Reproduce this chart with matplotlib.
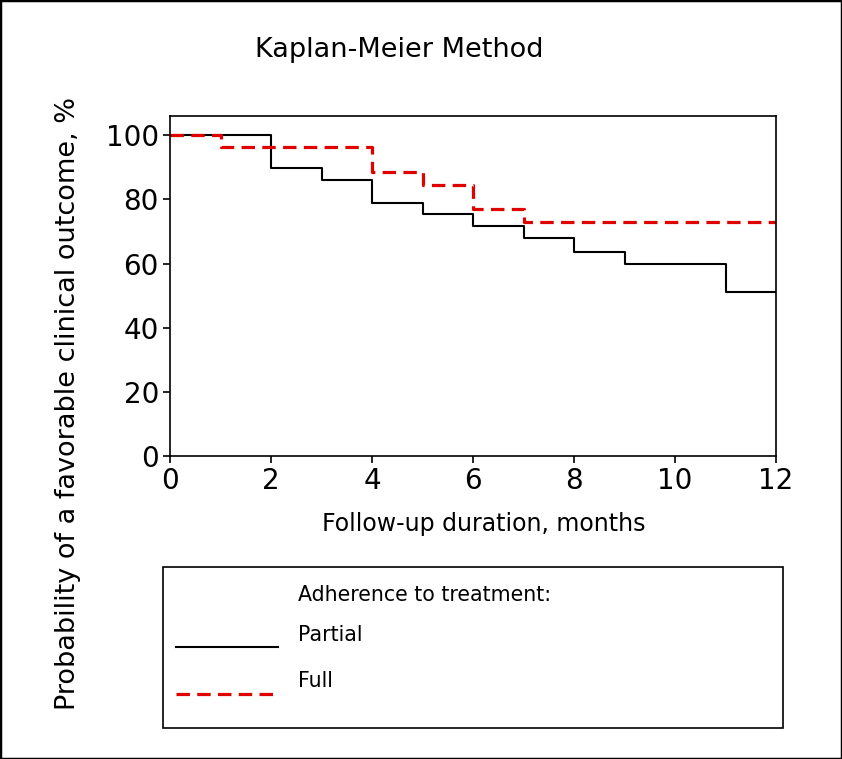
import numpy as np
import matplotlib
matplotlib.use("Agg")
import matplotlib.pyplot as plt
from matplotlib.lines import Line2D
from matplotlib.patches import Rectangle

plt.rcParams['font.family'] = ['DejaVu Sans']

# Kaplan-Meier step data (months, % with favorable outcome)
partial_t = [0, 2, 3, 4, 5, 6, 7, 8, 9, 11, 12]
partial_s = [100, 89.7, 86.0, 79.0, 75.5, 71.7, 67.9, 63.7, 60.0, 51.2, 51.2]

full_t = [0, 1, 4, 5, 6, 7, 12]
full_s = [100, 96.2, 88.5, 84.6, 76.9, 73.1, 73.1]

x_ticks = [0, 2, 4, 6, 8, 10, 12]
y_ticks = [0, 20, 40, 60, 80, 100]

red = '#e00000'

W, H = 842, 759
fig = plt.figure(figsize=(W / 100, H / 100), dpi=100)

# main axes, placed by pixel box
l, r, t, b = 170, 776, 116, 456
ax = fig.add_axes([l / W, 1 - b / H, (r - l) / W, (b - t) / H])
ax.step(partial_t, partial_s, where='post', color='black', lw=1.5)
ax.step(full_t, full_s, where='post', color=red, lw=2.3, dashes=(4.2, 2.3))
ax.set_xlim(0, 12)
ax.set_ylim(0, 106)
ax.set_xticks(x_ticks)
ax.set_yticks(y_ticks)
ax.tick_params(labelsize=20, length=5, width=1.2, pad=3)
for s in ax.spines.values():
    s.set_linewidth(1.2)

# axis titles placed as in the source (y title sits lower than the axes centre)
fig.text(484 / W, 1 - 524 / H, "Follow-up duration, months", fontsize=17,
         ha='center', va='center')
fig.text(68 / W, 1 - 403 / H, "Probability of a favorable clinical outcome, %",
         fontsize=19.5, rotation=90, ha='center', va='center')
fig.text(399 / W, 1 - 50 / H, "Kaplan-Meier Method", fontsize=19.5,
         ha='center', va='center')

# legend box drawn by hand
lx0, lx1, ly0, ly1 = 163, 783, 567, 728
fig.patches.append(Rectangle((lx0 / W, 1 - ly1 / H), (lx1 - lx0) / W, (ly1 - ly0) / H,
                             transform=fig.transFigure, fill=False, ec='black', lw=1.2))
fig.text(298 / W, 1 - 595 / H, "Adherence to treatment:", fontsize=14.8, va='center')
fig.text(298 / W, 1 - 635 / H, "Partial", fontsize=14.8, va='center')
fig.text(298 / W, 1 - 681 / H, "Full", fontsize=14.8, va='center')
fig.lines.append(Line2D([176 / W, 278 / W], [1 - 647 / H, 1 - 647 / H],
                        transform=fig.transFigure, color='black', lw=1.5))
fig.lines.append(Line2D([176 / W, 278 / W], [1 - 694 / H, 1 - 694 / H],
                        transform=fig.transFigure, color=red, lw=2.3, dashes=(4.2, 2.3)))

# outer frame
fig.patches.append(Rectangle((0, 0), 1, 1, transform=fig.transFigure,
                             fill=False, ec='black', lw=2.5))

fig.savefig("out.png", dpi=100)
